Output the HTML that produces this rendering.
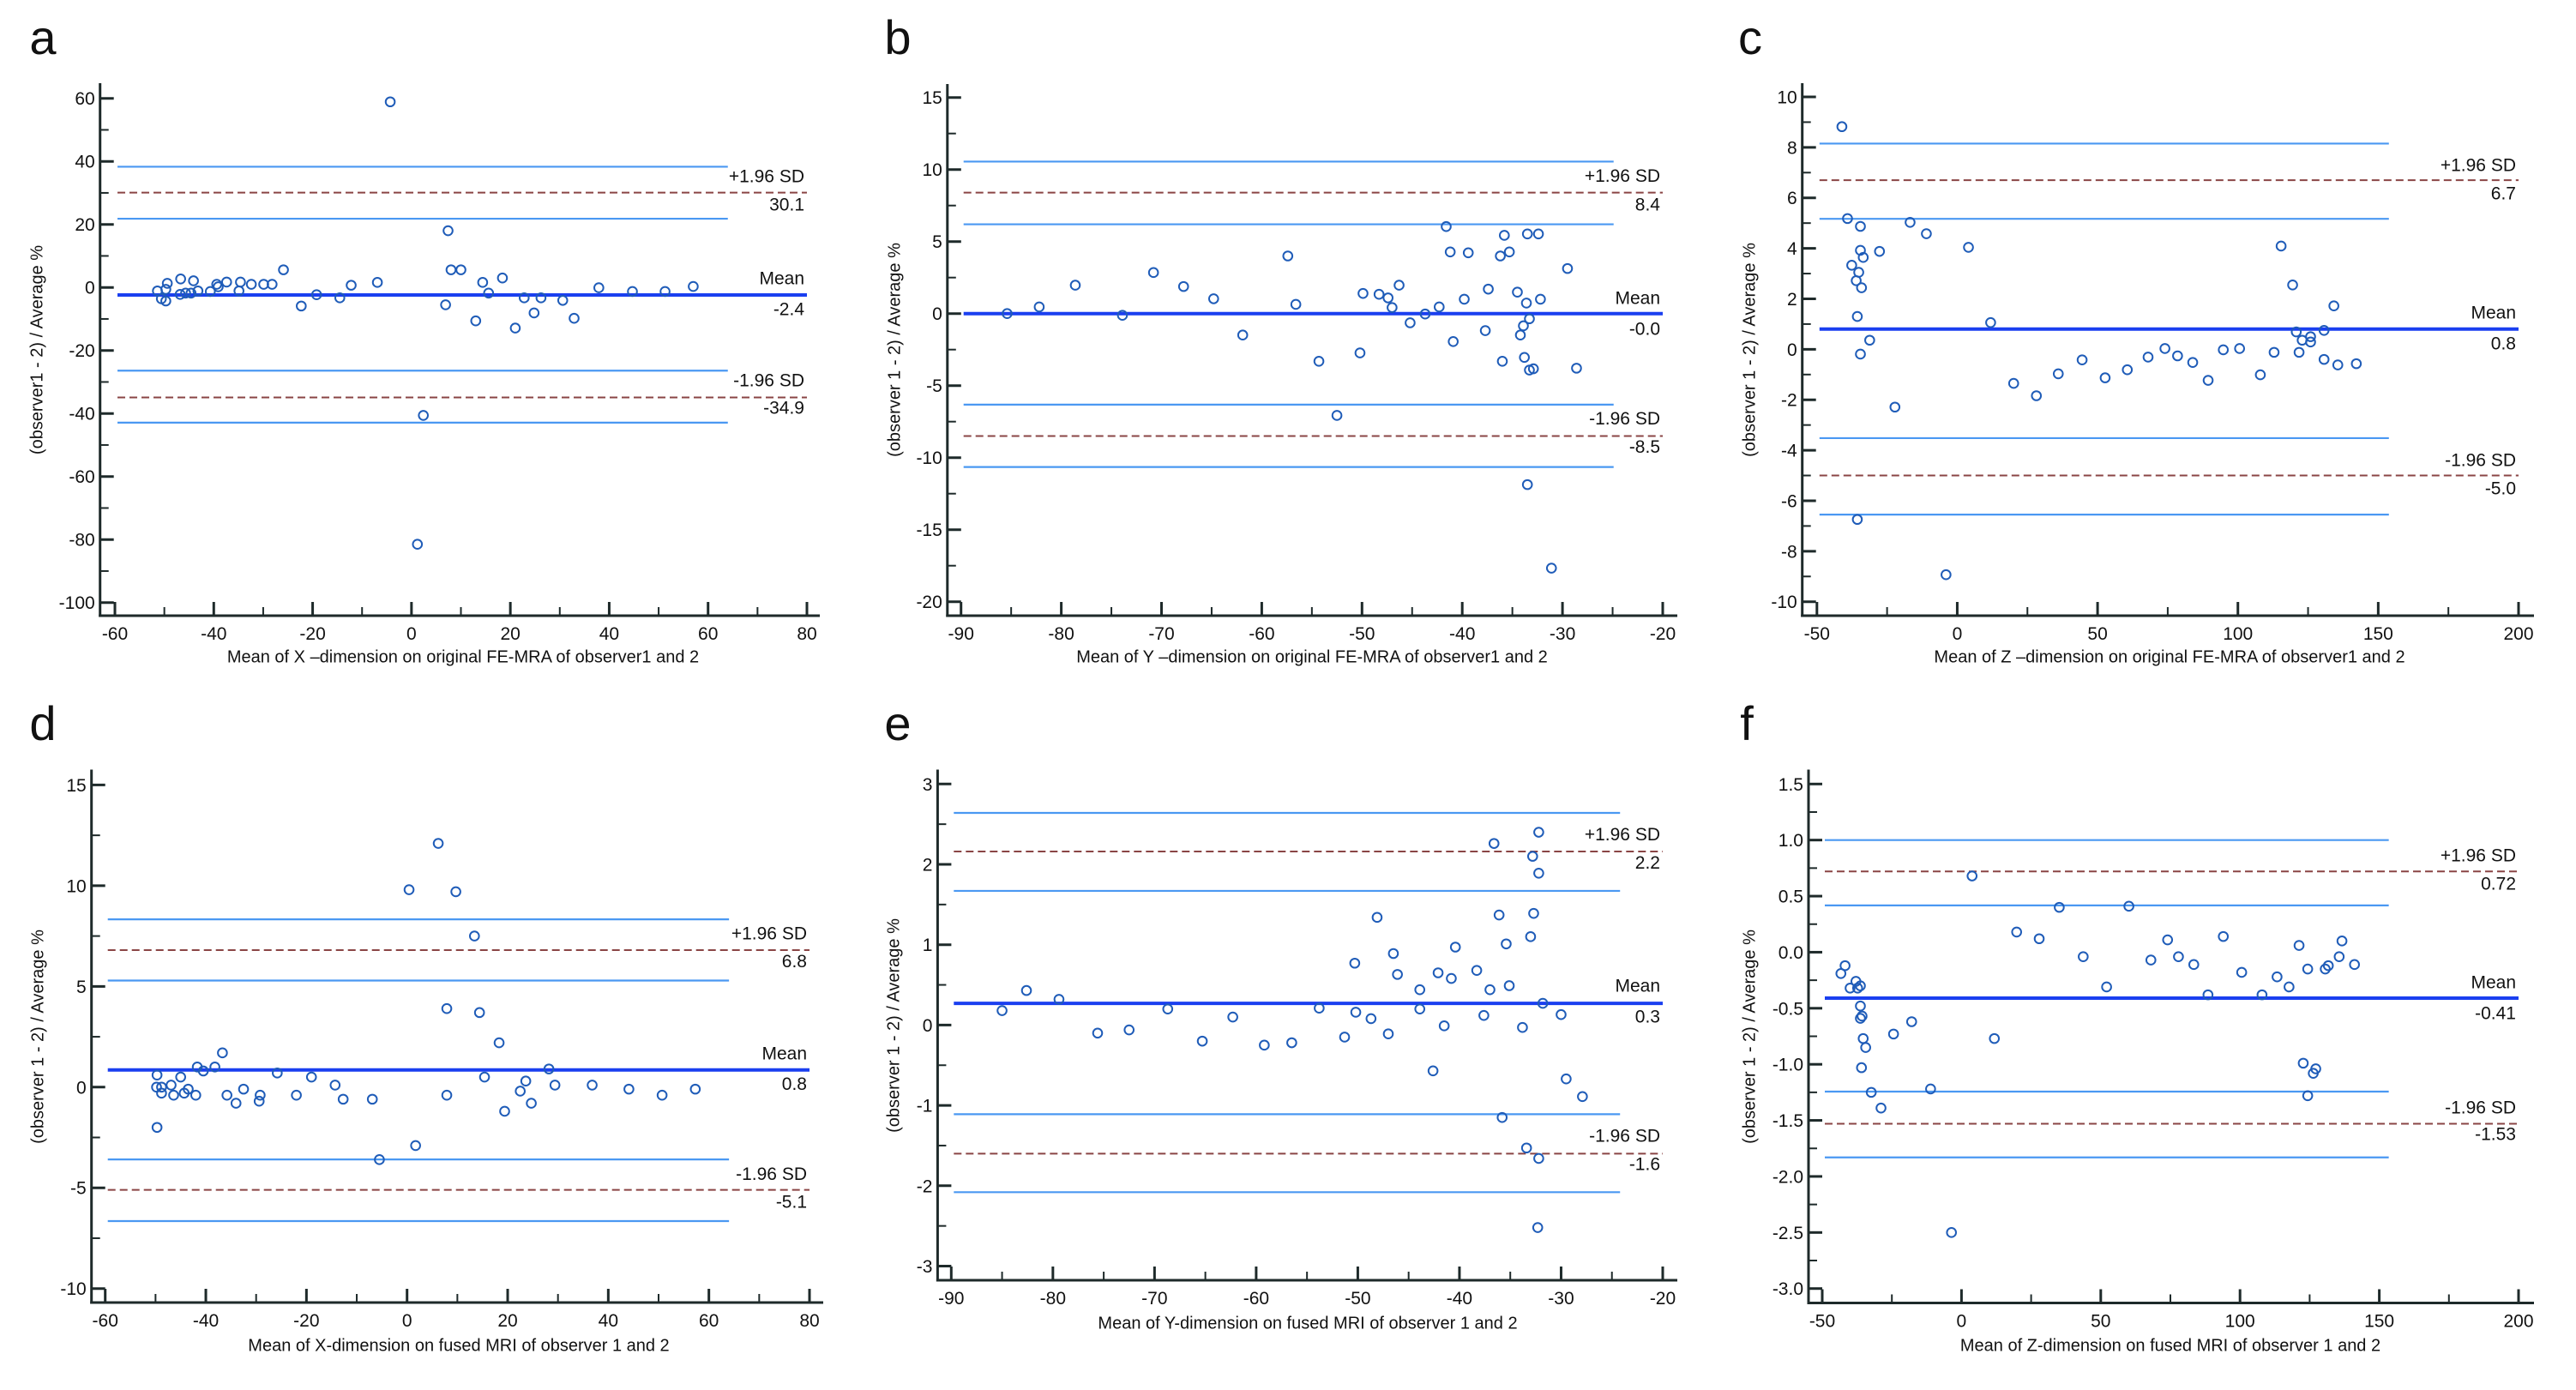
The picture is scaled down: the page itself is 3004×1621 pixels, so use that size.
<!DOCTYPE html>
<html><head><meta charset="utf-8"><style>
html,body{margin:0;padding:0;background:#fff;}
svg{display:block;font-family:"Liberation Sans",Arial,sans-serif;}
</style></head><body>
<svg id="fig" xmlns="http://www.w3.org/2000/svg" width="3004" height="1621" viewBox="0 0 3004 1621"></svg>
<script>
// ---- Panel a data ----
const aX=[-4.3,-51.4,-50.6,-49.7,-49.4,-49.7,-46.7,-46.8,-45.7,-44.6,-44.1,-43.2,-40.7,-39.4,-39.1,-37.4,-34.9,-34.6,-32.4,-29.9,-28.2,-25.9,-22.3,-19.2,-14.5,-12.2,-6.9,7.4,8.0,10.0,6.9,14.4,15.6,18.4,13.0,21.0,22.8,24.8,26.2,30.6,32.9,37.9,44.7,51.3,57.0,2.4,1.2];
const aY=[58.9,-1.1,-3.6,-4.3,1.3,-0.6,2.7,-2.2,-1.8,-1.8,2.1,-1.1,-1.3,1.0,0.2,1.7,-1.1,1.7,1.0,1.0,1.0,5.6,-5.9,-2.3,-3.3,0.7,1.6,18.0,5.6,5.6,-5.5,1.6,-1.8,3.0,-10.6,-12.9,-3.3,-8.1,-3.3,-4.1,-9.8,-0.1,-1.3,-1.3,0.3,-40.6,-81.5];
const aLines=[38.3,21.8,-26.4,-42.9];
const aStats=[30.1,-2.4,-34.9];
const aStatLabels=["30.1","-2.4","-34.9"];
// ---- Panel b data ----
const bX=[-85.4,-82.2,-78.6,-73.9,-70.8,-67.8,-64.8,-61.9,-57.4,-56.6,-54.3,-52.5,-50.2,-49.9,-48.3,-47.4,-47.0,-46.3,-45.2,-43.7,-42.3,-41.6,-41.2,-40.9,-39.8,-39.4,-37.7,-37.4,-36.2,-36.0,-35.8,-35.3,-34.5,-34.2,-33.9,-33.8,-33.6,-33.5,-33.5,-33.3,-33.3,-32.9,-32.4,-32.2,-31.1,-29.5,-28.6];
const bY=[0,0.46,1.97,-0.12,2.85,1.88,1.03,-1.49,4.0,0.64,-3.31,-7.07,-2.73,1.40,1.34,1.09,0.42,1.97,-0.64,-0.03,0.46,6.04,4.28,-1.94,1.0,4.22,-1.18,1.70,4.0,-3.31,5.43,4.28,1.49,-1.49,-0.85,-3.04,0.73,5.53,-11.87,-0.36,-3.92,-3.83,5.53,1.0,-17.67,3.13,-3.79];
const bLines=[10.55,6.2,-6.32,-10.65];
const bStats=[8.4,0,-8.5];
const bStatLabels=["8.4","-0.0","-8.5"];
// ---- Panel c data ----
const cX=[-41.1,-39.1,-34.5,-37.6,-34.5,-33.5,-35.1,-36.0,-34.1,-35.6,-31.2,-34.5,-35.6,-27.7,-22.2,-16.8,-11.0,-4.0,4.0,11.9,20.1,28.2,36.0,44.5,52.7,60.6,68.0,74.0,78.5,83.9,89.4,94.8,100.6,108.0,112.9,115.4,119.5,120.8,121.8,122.9,125.9,125.9,130.7,130.7,134.2,135.6,142.2];
const cY=[8.82,5.18,4.87,3.33,3.92,3.64,3.05,2.72,2.44,1.30,0.36,-0.19,-6.74,3.88,-2.29,5.03,4.58,-8.93,4.04,1.06,-1.35,-1.84,-0.97,-0.42,-1.13,-0.81,-0.31,0.03,-0.26,-0.52,-1.23,-0.02,0.03,-1.01,-0.12,4.09,2.55,0.69,-0.12,0.36,0.50,0.29,0.75,-0.40,1.72,-0.62,-0.57];
const cLines=[8.15,5.17,-3.52,-6.55];
const cStats=[6.7,0.8,-5.0];
const cStatLabels=["6.7","0.8","-5.0"];
// ---- Panel d data ----
const dX=[6.2,0.4,9.7,13.4,7.9,14.4,18.3,28.2,15.4,23.6,22.5,24.7,19.4,29.4,36.8,44.1,50.7,57.3,7.9,1.7,-5.5,-6.9,-12.7,-14.3,-19.0,-22.0,-25.8,-29.2,-29.4,-32.5,-34.0,-35.8,-36.7,-38.2,-40.5,-41.7,-42.0,-43.5,-44.3,-45.0,-46.4,-46.9,-48.8,-48.8,-49.8,-49.7,-49.7];
const dY=[12.1,9.8,9.7,7.5,3.9,3.7,2.2,0.9,0.5,0.3,-0.2,-0.8,-1.2,0.1,0.1,-0.1,-0.4,-0.1,-0.4,-2.9,-3.6,-0.6,-0.6,0.1,0.5,-0.4,0.7,-0.4,-0.7,-0.1,-0.8,-0.4,1.7,1.0,0.8,1.0,-0.4,-0.1,-0.3,0.5,-0.4,0.1,-0.3,0.0,0.0,0.6,-2.0];
const dLines=[8.33,5.29,-3.59,-6.65];
const dStats=[6.8,0.85,-5.1];
const dStatLabels=["6.8","0.8","-5.1"];
// ---- Panel e data ----
const eX=[-85.0,-82.6,-79.4,-75.6,-72.5,-68.7,-65.3,-62.3,-59.2,-56.5,-53.8,-51.3,-50.3,-50.2,-48.7,-48.1,-47.0,-46.5,-46.1,-43.9,-43.9,-42.6,-42.1,-41.5,-40.8,-40.4,-38.3,-37.6,-37.0,-36.6,-36.1,-35.8,-35.4,-35.1,-33.8,-33.4,-33.0,-32.8,-32.7,-32.3,-32.2,-32.2,-32.2,-31.8,-30.0,-29.5,-27.9];
const eY=[0.18,0.43,0.32,-0.10,-0.06,0.20,-0.20,0.10,-0.25,-0.22,0.21,-0.15,0.77,0.16,0.08,1.34,-0.11,0.89,0.63,0.44,0.20,-0.57,0.65,-0.01,0.58,0.97,0.68,0.12,0.44,2.26,1.37,-1.15,1.01,0.49,-0.03,-1.53,1.10,2.10,1.39,-2.52,2.40,1.89,-1.66,0.27,0.13,-0.67,-0.89];
const eLines=[2.64,1.67,-1.11,-2.08];
const eStats=[2.16,0.27,-1.6];
const eStatLabels=["2.2","0.3","-1.6"];
// ---- Panel f data ----
const fX=[-43.3,-41.8,-40.0,-37.9,-37.3,-36.3,-36.3,-36.3,-35.7,-35.3,-34.4,-35.9,-32.4,-28.9,-24.4,-17.9,-11.1,-3.6,3.8,11.8,19.8,27.9,35.1,43.7,52.1,60.1,68.0,74.0,77.9,83.4,88.5,94.0,100.6,107.9,113.3,117.6,121.2,122.7,124.3,124.3,126.3,127.2,130.6,131.7,135.6,136.6,141.1];
const fY=[-0.19,-0.12,-0.32,-0.26,-0.32,-0.30,-0.48,-0.59,-0.57,-0.77,-0.85,-1.03,-1.25,-1.39,-0.73,-0.62,-1.22,-2.50,0.68,-0.77,0.18,0.12,0.40,-0.04,-0.31,0.41,-0.07,0.11,-0.04,-0.11,-0.38,0.14,-0.18,-0.38,-0.22,-0.31,0.06,-0.99,-0.15,-1.28,-1.08,-1.04,-0.15,-0.12,-0.04,0.10,-0.11];
const fLines=[1.0,0.417,-1.243,-1.83];
const fStats=[0.72,-0.41,-1.53];
const fStatLabels=["0.72","-0.41","-1.53"];

const NS="http://www.w3.org/2000/svg";
const svg=document.getElementById('fig');
function mk(tag,attrs,parent){const e=document.createElementNS(NS,tag);for(const k in attrs)e.setAttribute(k,attrs[k]);(parent||svg).appendChild(e);return e;}

const panels=[
 {id:'a',letter:[50,63],ax:116.7,xa:[-60,134,80,941],ya:[60,114.7,-100,702.7],base:718,top:97,right:956,xt:[-60,80,20,10],yt:[-100,60,20,10],ydec:0,limEnd:64,
  X:aX,Y:aY,L:aLines,S:aStats,SL:aStatLabels,labR:938,labY:[207,240,326,362,445,477],
  xtitle:"Mean of X \u2013dimension on original FE-MRA of observer1 and 2",xtp:[540,767],ytitle:"(observer1 - 2) / Average %",ytp:[44,408]},
 {id:'b',letter:[1047,63],ax:1104.8,xa:[-90,1120.7,-20,1939],ya:[15,113.7,-20,701.7],base:718,top:98,right:1956,xt:[-90,-20,10,5],yt:[-20,15,5,2.5],ydec:0,limEnd:-24.9,
  X:bX,Y:bY,L:bLines,S:bStats,SL:bStatLabels,labR:1936,labY:[206.5,240,349,385,489.5,522.7],
  xtitle:"Mean of Y \u2013dimension on original FE-MRA of observer1 and 2",xtp:[1530,767],ytitle:"(observer 1 - 2) / Average %",ytp:[1044,408]},
 {id:'c',letter:[2041,63],ax:2101.7,xa:[-50,2118.8,200,2937],ya:[10,113,-10,701.7],base:718,top:97,right:2955,xt:[-50,200,50,25],yt:[-10,10,2,1],ydec:0,limEnd:153.8,
  X:cX,Y:cY,L:cLines,S:cStats,SL:cStatLabels,labR:2934,labY:[194,227,366,402,538,571],
  xtitle:"Mean of Z \u2013dimension on original FE-MRA of observer1 and 2",xtp:[2530,767],ytitle:"(observer 1 - 2) / Average %",ytp:[2041,408]},
 {id:'d',letter:[50,863],ax:106.7,xa:[-60,122.7,80,944],ya:[15,915.4,-10,1502.7],base:1519,top:897.5,right:960,xt:[-60,80,20,10],yt:[-10,15,5,2.5],ydec:0,limEnd:64,
  X:dX,Y:dY,L:dLines,S:dStats,SL:dStatLabels,labR:941,labY:[1090,1122.5,1230,1265.6,1370.5,1403],
  xtitle:"Mean of X-dimension on fused MRI of observer 1 and 2",xtp:[535,1570],ytitle:"(observer 1 - 2) / Average %",ytp:[45,1209]},
 {id:'e',letter:[1047,863],ax:1093.4,xa:[-90,1109.3,-20,1939],ya:[3,914.3,-3,1476.5],base:1493,top:897.5,right:1956,xt:[-90,-20,10,5],yt:[-3,3,1,0.5],ydec:0,limEnd:-24.2,
  X:eX,Y:eY,L:eLines,S:eStats,SL:eStatLabels,labR:1936,labY:[974.6,1007.7,1151,1187,1326,1359],
  xtitle:"Mean of  Y-dimension on fused MRI of observer 1 and 2",xtp:[1525,1544],ytitle:"(observer 1 - 2) / Average %",ytp:[1043,1196]},
 {id:'f',letter:[2037,863],ax:2109,xa:[-50,2125,200,2937],ya:[1.5,914.3,-3,1502.7],base:1519.5,top:897.5,right:2955,xt:[-50,200,50,25],yt:[-3,1.5,0.5,0.25],ydec:1,limEnd:153.4,
  X:fX,Y:fY,L:fLines,S:fStats,SL:fStatLabels,labR:2934,labY:[999,1032,1147,1183,1293,1324],
  xtitle:"Mean of  Z-dimension on fused MRI of observer 1 and 2",xtp:[2531,1570],ytitle:"(observer 1 - 2) / Average %",ytp:[2041,1209]}
];

panels.forEach(p=>{
  const g=mk('g',{});
  
  
  const sx=v=>p.xa[1]+(v-p.xa[0])*(p.xa[3]-p.xa[1])/(p.xa[2]-p.xa[0]);
  const sy=v=>p.ya[1]+(v-p.ya[0])*(p.ya[3]-p.ya[1])/(p.ya[2]-p.ya[0]);
  const xmin=p.xt[0],xmax=p.xt[1];
  const lt=mk('text',{x:p.letter[0],y:p.letter[1],'font-size':56,'text-anchor':'middle',fill:'#111'},g);
  lt.textContent=p.id;
  
  
  p.L.forEach((v,i)=>{
    const ln=mk('line',{x1:sx(xmin)+3,x2:sx(p.limEnd),y1:sy(v),y2:sy(v),stroke:'#4a98f2','stroke-width':2.2},g);
    
    
  });
  [0,2].forEach(i=>{
    const ln=mk('line',{x1:sx(xmin)+3,x2:sx(xmax),y1:sy(p.S[i]),y2:sy(p.S[i]),stroke:'#8a4545','stroke-width':2,'stroke-dasharray':'9 5'},g);
    
    
  });
  const ml=mk('line',{x1:sx(xmin)+3,x2:sx(xmax),y1:sy(p.S[1]),y2:sy(p.S[1]),stroke:'#1a3ff0','stroke-width':4},g);
  
  
  const names=['+1.96 SD',p.SL[0],'Mean',p.SL[1],'-1.96 SD',p.SL[2]];
  names.forEach((t,i)=>{
    const tx=mk('text',{x:p.labR,y:p.labY[i],'font-size':21,'text-anchor':'end','dominant-baseline':'middle',fill:'#111'},g);
    tx.textContent=t;
    
    
  });
  p.X.forEach((xv,i)=>{
    const c=mk('circle',{cx:sx(xv),cy:sy(p.Y[i]),r:5.3,fill:'none',stroke:'#1f5cb8','stroke-width':2},g);
    
    
  });
  const axc='#1e2a2a';
  const ya=mk('line',{x1:p.ax,x2:p.ax,y1:p.top,y2:p.base+1.5,stroke:axc,'stroke-width':3},g);
  
  
  const xa=mk('line',{x1:p.ax-1.5,x2:p.right,y1:p.base,y2:p.base,stroke:axc,'stroke-width':3},g);
  
  
  for(let v=xmin;v<=xmax+1e-9;v+=p.xt[3]){
    const major=Math.abs(((v-xmin)/p.xt[2])-Math.round((v-xmin)/p.xt[2]))<1e-6;
    const x=sx(v);
    mk('line',{x1:x,x2:x,y1:p.base,y2:p.base-(major?16:10),stroke:axc,'stroke-width':major?3:2},g);
    if(major){
      const t=mk('text',{x:x,y:p.base+28,'font-size':21,'text-anchor':'middle',fill:'#111'},g);
      t.textContent=String(Math.round(v));
      
      
    }
  }
  const ymin=p.yt[0],ymax=p.yt[1];
  for(let v=ymin;v<=ymax+1e-9;v+=p.yt[3]){
    const major=Math.abs(((v-ymin)/p.yt[2])-Math.round((v-ymin)/p.yt[2]))<1e-6;
    const y=sy(v);
    mk('line',{x1:p.ax,x2:p.ax+(major?16:10),y1:y,y2:y,stroke:axc,'stroke-width':major?3:2},g);
    if(major){
      const t=mk('text',{x:p.ax-6,y:y+7.5,'font-size':21,'text-anchor':'end',fill:'#111'},g);
      t.textContent=p.ydec?v.toFixed(p.ydec):String(Math.round(v));
      
      
    }
  }
  const xt=mk('text',{x:p.xtp[0],y:p.xtp[1],'font-size':20,'text-anchor':'middle','dominant-baseline':'middle',fill:'#111'},g);
  xt.textContent=p.xtitle;
  
  
  const yt=mk('text',{x:0,y:0,'font-size':20,'text-anchor':'middle','dominant-baseline':'middle',fill:'#111',transform:'translate('+p.ytp[0]+','+p.ytp[1]+') rotate(-90)'},g);
  yt.textContent=p.ytitle;
  
  
});
</script>
</body></html>
